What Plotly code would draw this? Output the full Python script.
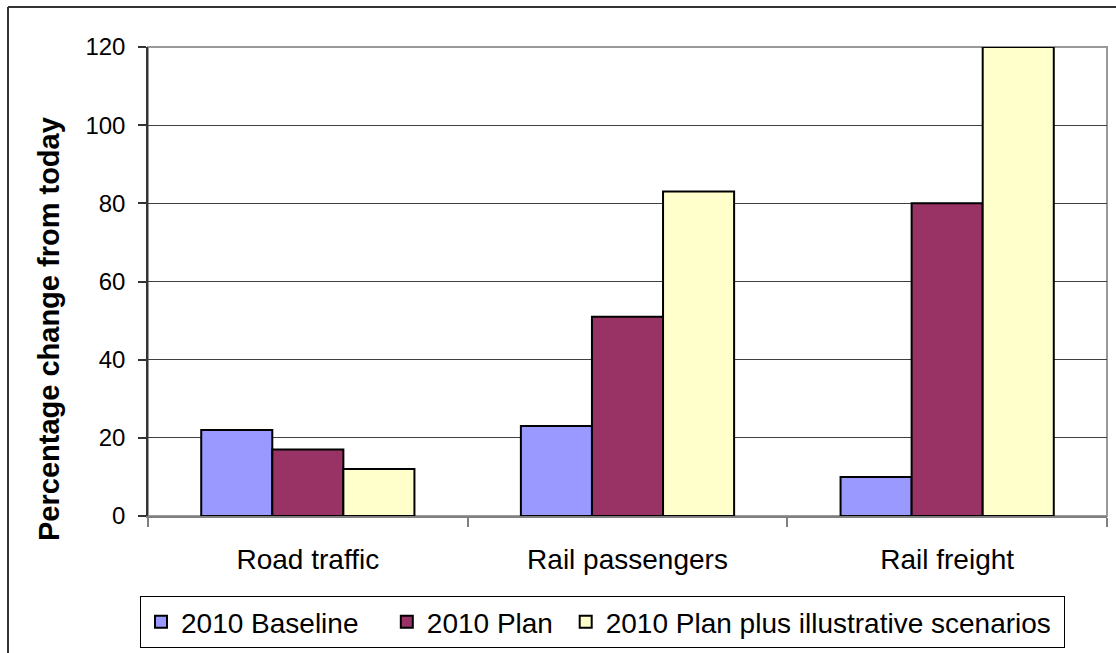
import plotly.graph_objects as go

categories = ["Road traffic", "Rail passengers", "Rail freight"]
baseline = [22, 23, 10]
plan = [17, 51, 80]
plan_plus = [12, 83, 120]
series_names = ["2010 Baseline", "2010 Plan", "2010 Plan plus illustrative scenarios"]
series_colors = ["#9999FF", "#993366", "#FFFFCC"]
y_ticks = [0, 20, 40, 60, 80, 100, 120]

# extra legend spacing (non-breaking spaces appended to the legend labels)
legend_pad = [3, 1, 1]

FONT = "Liberation Sans, Arial, sans-serif"

fig = go.Figure()
for name, vals, col, pad in zip(series_names, [baseline, plan, plan_plus], series_colors, legend_pad):
    fig.add_trace(go.Bar(
        x=categories, y=vals, name=name + "\u00a0" * pad,
        marker=dict(color=col, line=dict(color="#000000", width=2)),
    ))

W, H = 1116, 653
L, R, T, B = 148, 9, 47, 137
pw, ph = W - L - R, H - T - B

def px(xp):
    return (xp - L) / pw

def py(yp):
    return (H - B - yp) / ph

fig.update_layout(
    width=W, height=H,
    margin=dict(l=L, r=R, t=T, b=B, pad=0, autoexpand=False),
    paper_bgcolor="white", plot_bgcolor="white",
    barmode="group", bargap=0.333, bargroupgap=0,
    font=dict(family=FONT, color="#000000", size=22),
    showlegend=True,
    legend=dict(
        orientation="h", xref="container", yref="container",
        x=140 / W, y=1 - 596 / H, xanchor="left", yanchor="top",
        bordercolor="#000000", borderwidth=1, bgcolor="white",
        font=dict(size=28, family=FONT, color="#000000"),
        traceorder="normal",
    ),
    xaxis=dict(
        type="category", showgrid=False, showline=True, linecolor="#808080", linewidth=2,
        ticks="outside", tickson="boundaries", ticklen=9, tickcolor="#808080", tickwidth=1.5,
        tickfont=dict(size=28, family=FONT), ticklabelstandoff=17,
        range=[-0.5, 2.5], fixedrange=True, automargin=False,
    ),
    yaxis=dict(
        range=[0, 120], tickvals=y_ticks, showgrid=True, gridcolor="#404040", gridwidth=1,
        showline=True, linecolor="#333333", linewidth=1.5,
        ticks="outside", ticklen=8, tickcolor="#333333", tickwidth=1.5,
        tickfont=dict(size=24, family=FONT), ticklabelstandoff=8,
        zeroline=False, fixedrange=True, automargin=False,
    ),
    shapes=[
        # plot area border (top / right)
        dict(type="rect", xref="paper", yref="paper", x0=0, x1=1, y0=0, y1=1,
             line=dict(color="#999999", width=2), layer="below"),
        # outer chart border (left and top)
        dict(type="line", xref="paper", yref="paper", x0=px(8), x1=px(8), y0=py(7), y1=py(H + 5),
             line=dict(color="#333333", width=2)),
        dict(type="line", xref="paper", yref="paper", x0=px(8), x1=px(W + 5), y0=py(7), y1=py(7),
             line=dict(color="#333333", width=2)),
    ],
    annotations=[
        dict(text="<b>Percentage change from today</b>", textangle=-90,
             xref="paper", yref="paper", x=px(49), y=py(329),
             xanchor="center", yanchor="middle", showarrow=False,
             font=dict(size=29, family=FONT, color="#000000")),
    ],
)

fig.write_html("out.html")
